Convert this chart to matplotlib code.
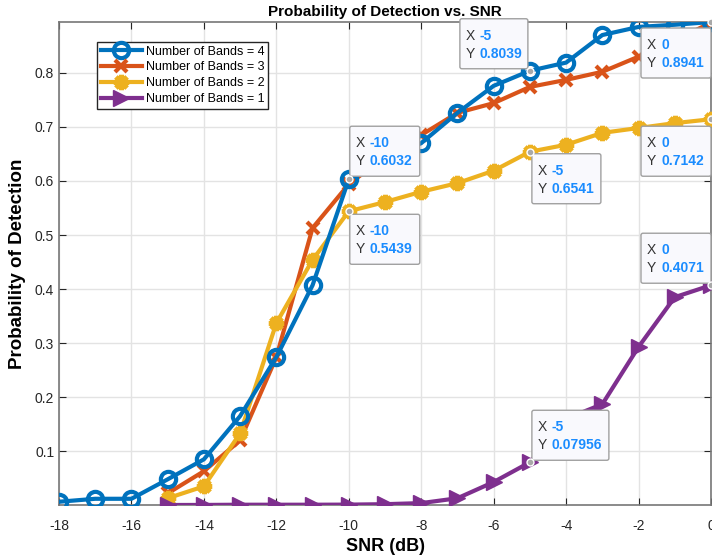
import numpy as np
import matplotlib
matplotlib.use('Agg')
import matplotlib.pyplot as plt
from matplotlib.patches import FancyBboxPatch
from matplotlib.transforms import ScaledTranslation

plt.rcParams['font.family'] = ['Liberation Sans', 'DejaVu Sans']
plt.rcParams['axes.unicode_minus'] = False

snr4 = list(range(-18, 1))
pd4 = [0.0065, 0.012, 0.012, 0.048, 0.085, 0.165, 0.274, 0.407, 0.6032, 0.640,
       0.670, 0.726, 0.776, 0.8039, 0.819, 0.870, 0.885, 0.889, 0.8941]
snr = list(range(-15, 1))
pd3 = [0.022, 0.063, 0.120, 0.274, 0.513, 0.594, 0.645, 0.685, 0.726, 0.744,
       0.774, 0.787, 0.802, 0.830, 0.860, 0.893]
pd2 = [0.013, 0.035, 0.133, 0.337, 0.454, 0.5439, 0.561, 0.580, 0.596, 0.619,
       0.6541, 0.667, 0.689, 0.698, 0.707, 0.7142]
pd1 = [0.0005, 0.0006, 0.001, 0.001, 0.001, 0.0012, 0.002, 0.004, 0.013, 0.043,
       0.07956, 0.160, 0.187, 0.293, 0.385, 0.4071]

# datatips: x, y, box offset (px), box size (px)
tips = [
    (-10, 0.6032, 1, 3, 70, 50),
    (-10, 0.5439, 1, -53, 70, 50),
    (-5, 0.8039, -70, 2, 68, 50),
    (-5, 0.6541, 2, -52, 69, 50),
    (0, 0.8941, -70, -56, 70, 50),
    (0, 0.7142, -70, -57, 70, 50),
    (-5, 0.07956, 2, 2, 77, 50),
    (0, 0.4071, -70, 2, 70, 50),
]

blue, red, yellow, purple = '#0072BD', '#D95319', '#EDB120', '#7E2F8E'

fig = plt.figure(figsize=(7.12, 5.56), dpi=100)
ax = fig.add_axes([59/712, 51/556, 652/712, 483/556])

ax.plot(snr4, pd4, '-o', color=blue, lw=3, ms=11, mew=3, mfc='none', label='Number of Bands = 4', zorder=4)
ax.plot(snr, pd3, '-x', color=red, lw=3, ms=9, mew=3, label='Number of Bands = 3', zorder=3)
ax.plot(snr, pd2, '-', marker=(8, 2, 0), color=yellow, lw=3, ms=11, mew=3.5, label='Number of Bands = 2', zorder=3)
ax.plot(snr, pd1, '->', color=purple, lw=3, ms=11, label='Number of Bands = 1', zorder=3)

ax.set_xlim(-18, 0)
ax.set_ylim(0.0005, 0.8941)
ax.set_xticks(np.arange(-18, 1, 2))
ax.set_yticks(np.arange(0.1, 0.85, 0.1))
ax.set_yticklabels(['0.1', '0.2', '0.3', '0.4', '0.5', '0.6', '0.7', '0.8'])
ax.grid(True, color='#e3e3e3', lw=1)
ax.set_axisbelow(True)
ax.tick_params(direction='in', top=True, right=True, length=5, labelsize=10, colors='#262626')
ax.tick_params(axis='x', pad=10)
for s in ax.spines.values():
    s.set_color('#777777')
    s.set_linewidth(1.2)

ax.set_title('Probability of Detection vs. SNR', fontsize=11, fontweight='bold', pad=4)
ax.set_xlabel('SNR (dB)', fontsize=13, fontweight='bold', labelpad=4)
ax.set_ylabel('Probability of Detection', fontsize=13.5, fontweight='bold', labelpad=6)

leg = ax.legend(loc='upper left', bbox_to_anchor=(38/652, 1 - 20/483), fontsize=9,
                handlelength=3.3, handletextpad=0.3, borderpad=0.3, labelspacing=0.3,
                fancybox=False, framealpha=1, edgecolor='#262626', borderaxespad=0)
leg.get_frame().set_linewidth(1)

for x, y, dx, dy, w, h in tips:
    trans = fig.dpi_scale_trans + ScaledTranslation(x, y, ax.transData)
    box = FancyBboxPatch((dx/100, dy/100), w/100, h/100,
                         boxstyle='round,pad=0,rounding_size=0.02', transform=trans,
                         fc='#f9f9fd', ec='#a0a0a0', lw=1, clip_on=False, zorder=6)
    ax.add_patch(box)
    ax.plot([x], [y], 'o', color='#a8a8a8', mec='white', ms=5, mew=1, clip_on=False, zorder=7)
    val_y = f'{y:.4g}'
    for row, (lab, val) in enumerate([('X', str(x)), ('Y', val_y)]):
        ty = (dy + h - 17 - row*18) / 100
        ax.text((dx + 6)/100, ty, lab, transform=trans, fontsize=10, color='#333333',
                va='center', ha='left', zorder=8, clip_on=False)
        ax.text((dx + 20)/100, ty, val, transform=trans, fontsize=10, color='#1a8cff',
                fontweight='bold', va='center', ha='left', zorder=8, clip_on=False)

fig.savefig('out.png', dpi=100)
